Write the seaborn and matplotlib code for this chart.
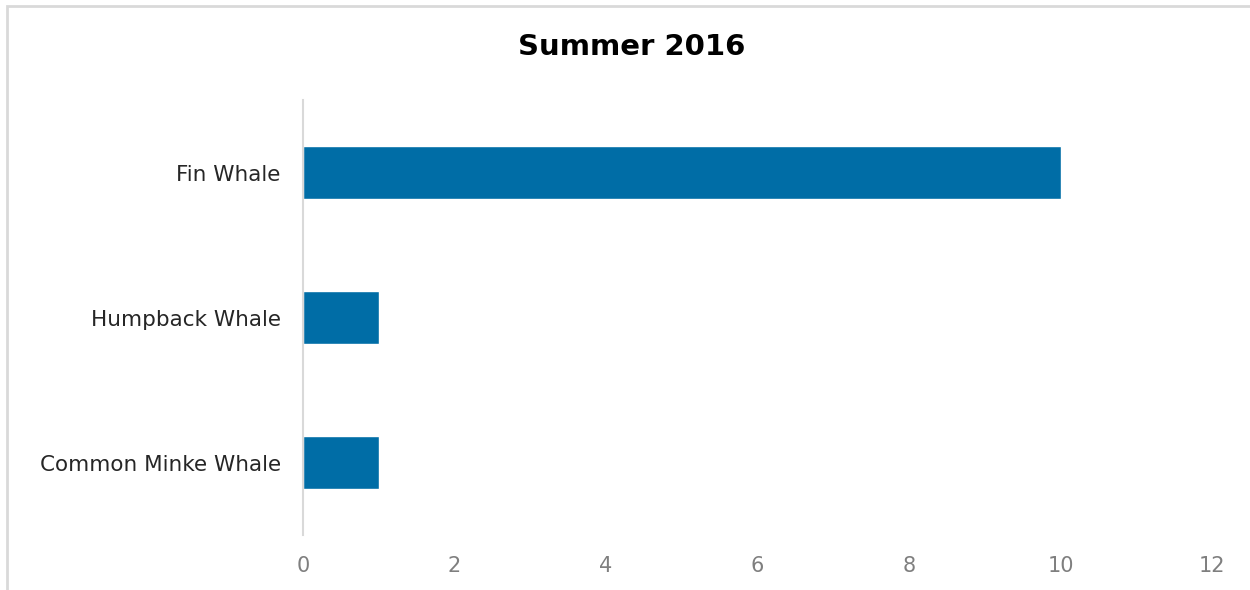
import matplotlib
matplotlib.use("Agg")
import matplotlib.pyplot as plt
import seaborn as sns
import pandas as pd

# donnees du graphique
species = ["Fin Whale", "Humpback Whale", "Common Minke Whale"]
counts = [10, 1, 1]
x_ticks = [0, 2, 4, 6, 8, 10, 12]

df = pd.DataFrame({"species": species, "count": counts})

sns.set_style("white")
plt.rcParams["font.family"] = ["DejaVu Sans"]

fig = plt.figure(figsize=(12.5, 5.9), dpi=100)
ax = fig.add_axes([0.2424, 0.0932, 0.7272, 0.7373])

sns.barplot(data=df, x="count", y="species", orient="h", color="#006DA6",
            width=0.36, saturation=1, ax=ax)

ax.set_xlim(0, 12)
ax.set_ylim(2.5, -0.5)
ax.set_xticks(x_ticks)
ax.set_xlabel("")
ax.set_ylabel("")
for s in ["top", "right", "bottom"]:
    ax.spines[s].set_visible(False)
ax.spines["left"].set_color("#d9d9d9")
ax.spines["left"].set_linewidth(1.5)
ax.tick_params(axis="both", length=0)
ax.tick_params(axis="x", labelsize=15, labelcolor="#7f7f7f", pad=15)
ax.tick_params(axis="y", labelsize=15.5, labelcolor="#262626", pad=16)

fig.text(0.505, 0.92, "Summer 2016", ha="center", va="center",
         fontsize=21, fontweight="bold", color="#000000")

# cadre du graphique (bords haut et gauche visibles)
fig.add_artist(plt.Rectangle((7 / 1250, -0.05), 1.1, 1 - 6 / 590 + 0.05,
                             transform=fig.transFigure, fill=False,
                             edgecolor="#d9d9d9", linewidth=2))

fig.savefig("out.png", dpi=100)
